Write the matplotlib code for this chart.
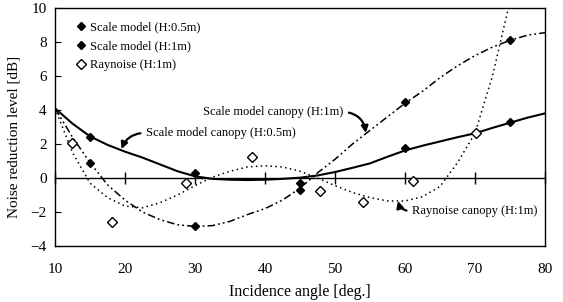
import matplotlib
matplotlib.use("Agg")
import matplotlib.pyplot as plt

plt.rcParams['font.family'] = ['Liberation Serif', 'DejaVu Serif']

# measured points
x_half = [15, 30, 45, 60, 75]
y_half = [2.43, 0.27, -0.31, 1.75, 3.27]
x_one = [15, 30, 45, 60, 75]
y_one = [0.9, -2.8, -0.7, 4.45, 8.12]
x_ray = [12.4, 18.2, 28.7, 38.1, 47.8, 54.0, 61.2, 70.1]
y_ray = [2.08, -2.57, -0.31, 1.25, -0.75, -1.39, -0.18, 2.63]

# canopy curves
x_curve = [10, 12.5, 15, 17.5, 20, 22.5, 25, 27.5, 30, 32.5, 35, 37.5, 40, 42.5, 45,
           47.5, 50, 52.5, 55, 57.5, 60, 62.5, 65, 67.5, 70, 72.5, 75, 77.5, 80]
y_curve_half = [4.1, 3.2, 2.45, 1.95, 1.55, 1.2, 0.8, 0.4, 0.1, -0.05, -0.1, -0.12, -0.1, -0.05, 0.02,
                0.15, 0.35, 0.6, 0.86, 1.25, 1.62, 1.9, 2.15, 2.4, 2.63, 2.95, 3.25, 3.55, 3.8]
y_curve_one = [4.1, 2.4, 0.9, -0.4, -1.3, -2.0, -2.45, -2.75, -2.85, -2.8, -2.55, -2.15, -1.8, -1.3, -0.6,
               0.3, 1.1, 2.0, 2.8, 3.6, 4.4, 5.1, 5.9, 6.6, 7.2, 7.7, 8.1, 8.4, 8.55]
x_curve_ray = [10, 12.5, 15, 17.5, 20, 22.5, 25, 27.5, 30, 32.5, 35, 37.5, 40, 42.5, 45,
               47.5, 50, 52.5, 55, 57.5, 60, 62.5, 65, 67.5, 70, 72.5, 75]
y_curve_ray = [4.1, 1.5, -0.3, -1.15, -1.65, -1.75, -1.45, -1.0, -0.45, 0.05, 0.4, 0.65, 0.72, 0.65, 0.4,
               0.0, -0.45, -0.85, -1.15, -1.35, -1.35, -1.1, -0.5, 0.9, 2.63, 6.0, 10.4]

x_ticks = [10, 20, 30, 40, 50, 60, 70, 80]
y_ticks = [-4, -2, 0, 2, 4, 6, 8, 10]

fig = plt.figure(figsize=(5.63, 3.02), dpi=100)
ax = fig.add_axes([0.0977, 0.1854, 0.8703, 0.7881])

ax.plot(x_curve, y_curve_half, color='k', lw=1.5)
ax.plot(x_curve, y_curve_one, color='k', lw=1.1, dashes=(5, 2, 1.2, 2, 1.2, 2))
ax.plot(x_curve_ray, y_curve_ray, color='k', lw=1.1, dashes=(1, 2.2))

ax.plot(x_half, y_half, 'D', color='k', ms=4.5, ls='none', label='Scale model (H:0.5m)')
ax.plot(x_one, y_one, 'D', color='k', ms=4.5, ls='none', label='Scale model (H:1m)')
ax.plot(x_ray, y_ray, 'D', mfc='white', mec='k', mew=1.0, ms=5, ls='none', label='Raynoise (H:1m)')

ax.set_xlim(10, 80)
ax.set_ylim(-4, 10)
ax.set_xticks(x_ticks)
ax.set_yticks(y_ticks)
ax.tick_params(axis='x', length=0, labelsize=11, pad=12)
ax.tick_params(axis='y', direction='in', length=4, labelsize=11, pad=6)
for s in ax.spines.values():
    s.set_linewidth(1.0)

# zero line with cross ticks
sec = ax.secondary_xaxis(4 / 14)
sec.set_xticks(x_ticks)
sec.tick_params(direction='inout', length=8, width=1.0, labelbottom=False)
sec.set_xticklabels([])
sec.spines['bottom'].set_linewidth(1.0)

ax.set_xlabel('Incidence angle [deg.]', fontsize=11.5, labelpad=6)
ax.set_ylabel('Noise reduction level [dB]', fontsize=11)
ax.yaxis.set_label_coords(-0.07, 0.46)

ax.legend(loc='upper left', bbox_to_anchor=(0.03, 0.975), frameon=False, fontsize=9,
          handlelength=0.6, handletextpad=0.4, labelspacing=0.55, borderaxespad=0.2)

arrow = dict(arrowstyle='-|>', color='k', lw=1.6, mutation_scale=10, shrinkA=2, shrinkB=0)
ax.annotate('Scale model canopy (H:0.5m)', xy=(19.5, 1.7), xytext=(23.0, 2.65),
            fontsize=9, va='center', ha='left',
            arrowprops=dict(arrow, relpos=(0, 0.5), connectionstyle='arc3,rad=0.35'))
ax.annotate('Scale model canopy (H:1m)', xy=(54.4, 2.65), xytext=(51.2, 3.9),
            fontsize=9, va='center', ha='right',
            arrowprops=dict(arrow, relpos=(1, 0.5), connectionstyle='arc3,rad=-0.4'))
ax.annotate('Raynoise canopy (H:1m)', xy=(59.0, -1.35), xytext=(61.0, -1.95),
            fontsize=9, va='center', ha='left',
            arrowprops=dict(arrow, relpos=(0, 0.5), connectionstyle='arc3,rad=-0.4'))

fig.savefig('out.png', dpi=100)
